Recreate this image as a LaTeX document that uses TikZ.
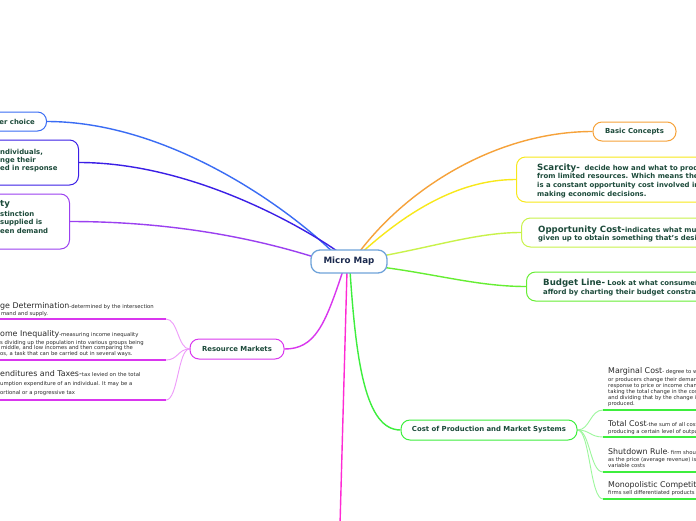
\documentclass[tikz,border=0pt]{standalone}
\usepackage{fontspec}
\setmainfont{DejaVu Sans}
\pgfdeclarelayer{bg}
\pgfsetlayers{bg,main}
\definecolor{tg}{HTML}{1C4A3A}
\definecolor{navy}{HTML}{1B2A4E}
\definecolor{mmb}{HTML}{6FA3DA}
\definecolor{cblueA}{HTML}{3A6CF4}
\definecolor{cblueB}{HTML}{3B1FE6}
\definecolor{cpurple}{HTML}{9B40F0}
\definecolor{corange}{HTML}{F6A23A}
\definecolor{cyellow}{HTML}{F8E81A}
\definecolor{cygreen}{HTML}{C9F24A}
\definecolor{cgreenA}{HTML}{66EE33}
\definecolor{cgreenB}{HTML}{3DEE3D}
\definecolor{cmag}{HTML}{D936EE}
\definecolor{cpink}{HTML}{FF2BD4}
\definecolor{lmag}{HTML}{EE9BFA}
\definecolor{lgreen}{HTML}{9CF79C}
\definecolor{ctext}{HTML}{2A2A2A}
\newcommand\boxfont{\fontsize{6.9}{8.7}\selectfont\bfseries}
\newcommand\boxbig{\fontsize{8.6}{8.7}\selectfont}
\newcommand\chtitle{\fontsize{7.9}{9}\selectfont}
\newcommand\chdesc{\fontsize{5.3}{6.2}\selectfont}
\begin{document}
\begin{tikzpicture}[x=1pt,y=-1pt,
  topic/.style={draw, fill=white, rounded corners=9pt, line width=1pt, inner sep=0pt},
  btext/.style={inner sep=0pt, text=tg, font=\boxfont, align=left},
  ctitle/.style={inner sep=0pt, text=ctext, font=\chdesc, align=left},
  con/.style={line width=1.4pt},
  thin/.style={line width=0.9pt},
  uline/.style={line width=2.2pt}]
\useasboundingbox (0,0) rectangle (696,520);
\clip (0,0) rectangle (696,520);

% central
\node[topic, draw=mmb, line width=1.3pt, minimum width=76pt, minimum height=23pt,
      text=navy, font=\fontsize{8.7}{10}\selectfont\bfseries] (mm) at (349,261.5) {Micro Map};

% right side topics
\node[topic, draw=corange, minimum width=83pt, minimum height=19pt, text=tg, font=\boxfont] (bc) at (634.5,131.5) {Basic Concepts};
\node[topic, draw=cyellow, minimum width=240pt, minimum height=45pt, anchor=west] (sc) at (516,179.5) {};
\node[btext, anchor=north west] (sct) at (537,163.5) {{\boxbig Scarcity-}\ \ decide how and what to produce\\from limited resources. Which means there\\is a constant opportunity cost involved in\\making economic decisions.};
\node[topic, draw=cygreen, minimum width=240pt, minimum height=29pt, anchor=west] (oc) at (521,232.5) {};
\node[btext, anchor=north west] (oct) at (538,225.5) {{\boxbig Opportunity Cost-}indicates what must be\\given up to obtain something that's desired};
\node[topic, draw=cgreenA, minimum width=240pt, minimum height=29pt, anchor=west] (bl) at (526,286.5) {};
\node[btext, anchor=north west] (blt) at (543,279) {{\boxbig Budget Line-} Look at what consumers can\\afford by charting their budget constraint};

% cost of production
\node[topic, draw=cgreenB, minimum width=176pt, minimum height=20pt, text=tg, font=\boxfont] (cp) at (489,430) {Cost of Production and Market Systems};
\node[ctitle, anchor=north west] (mct) at (608,367) {{\chtitle Marginal Cost}- degree to which consumers\\[1.6pt]or producers change their demand in\\response to price or income changes,\\taking the total change in the cost\\and dividing that by the change in quantity\\produced.};
\node[ctitle, anchor=north west] (tct) at (608,420) {{\chtitle Total Cost}-the sum of all costs of\\[0.8pt]producing a certain level of output};
\node[ctitle, anchor=north west] (srt) at (608,448) {{\chtitle Shutdown Rule}- firm should shut down\\[0.8pt]as the price (average revenue) is below average\\variable costs};
\node[ctitle, anchor=north west] (mot) at (608,481) {{\chtitle Monopolistic Competition}-\\[0.8pt]firms sell differentiated products};
\coordinate (c1) at (603,410);
\coordinate (c2) at (603,437);
\coordinate (c3) at (603,472);
\coordinate (c4) at (603,499);
\coordinate (c1e) at (700,410);
\coordinate (c2e) at (700,437);
\coordinate (c3e) at (700,472);
\coordinate (c4e) at (700,499);

% left topics
\node[topic, draw=cblueA, minimum width=110pt, minimum height=19pt, anchor=east] (ec) at (47,121.5) {};
\node[btext, anchor=east] (ect) at (35,121.5) {er choice};
\node[topic, draw=cblueB, minimum width=150pt, minimum height=45pt, anchor=east] (b7) at (79,162.5) {};
\node[btext, anchor=north west, font=\fontsize{6.9}{7.8}\selectfont\bfseries] (b7t) at (0,149.4) {ndividuals,\\nge their\\ed in response};
\node[topic, draw=cpurple, minimum width=150pt, minimum height=55pt, anchor=east] (b8) at (70,221.5) {};
\node[btext, anchor=north west, font=\fontsize{6.9}{8.4}\selectfont\bfseries] (b8t) at (0,200.5) {{\boxbig ty}\\[1.4pt]stinction\\supplied is\\een demand};

% resource markets
\node[topic, draw=cmag, minimum width=94pt, minimum height=20pt, text=tg, font=\boxfont] (rm) at (237,349) {Resource Markets};
\node[ctitle, anchor=north west] (wgt) at (0,302) {{\chtitle ge Determination}-determined by the intersection\\[0.8pt]\,mand and supply.};
\node[ctitle, anchor=north west, font=\fontsize{5.3}{5.5}\selectfont] (iit) at (0,330) {{\chtitle ome Inequality}-measuring income inequality\\[1.4pt]s dividing up the population into various groups being\\\,middle, and low incomes and then comparing the\\os, a task that can be carried out in several ways.};
\node[ctitle, anchor=north west, font=\fontsize{5.3}{9}\selectfont] (ett) at (0,370) {{\chtitle enditures and Taxes-}tax levied on the total\\umption expenditure of an individual. It may be a\\ortional or a progressive tax};
\coordinate (r1) at (166,319);
\coordinate (r2) at (166,360);
\coordinate (r3) at (166,400);
\coordinate (r1e) at (-5,319);
\coordinate (r2e) at (-5,360);
\coordinate (r3e) at (-5,400);
\coordinate (bot) at (340,525);

\begin{pgfonlayer}{bg}
\fill[white] (-5,-5) rectangle (701,525);
% left connectors
\draw[con, cblueA] ([shift={(-16,3)}]mm.north) .. controls (290,210) and (170,121.5) .. (ec.east);
\draw[con, cblueB] ([shift={(-10,3)}]mm.north) .. controls (300,225) and (190,162.5) .. (b7.east);
\draw[con, cpurple] ([shift={(2,-5)}]mm.west) .. controls (275,245) and (190,221.5) .. (b8.east);
% right connectors
\draw[con, corange] ([shift={(10,3)}]mm.north) .. controls (410,185) and (500,131.5) .. (bc.west);
\draw[con, cyellow] ([shift={(13,3)}]mm.north) .. controls (420,200) and (470,179.5) .. (sc.west);
\draw[con, cygreen] ([shift={(-3,-6)}]mm.east) .. controls (440,245) and (480,232.5) .. (oc.west);
\draw[con, cgreenA] ([shift={(-3,6)}]mm.east) .. controls (440,275) and (480,286.5) .. (bl.west);
% downward connectors
\draw[con, cgreenB] ([shift={(1,-3)}]mm.south) .. controls (356,360) and (365,430) .. (cp.west);
\draw[con, cmag] ([shift={(-6,-3)}]mm.south) .. controls (325,325) and (315,349) .. (rm.east);
\draw[con, cpink] ([shift={(-2,-3)}]mm.south) -- (bot);
% resource market branches
\foreach \p in {r1,r2,r3}{
  \draw[thin, lmag] (rm.west) .. controls (178,349) and (178,0|-\p) .. (\p);
}
\draw[uline, cmag] (r1) -- (r1e);
\draw[uline, cmag] (r2) -- (r2e);
\draw[uline, cmag] (r3) -- (r3e);
% cost branches
\foreach \p in {c1,c2,c3,c4}{
  \draw[thin, lgreen] (cp.east) .. controls (590,430) and (590,0|-\p) .. (\p);
}
\draw[uline, cgreenB] (c1) -- (c1e);
\draw[uline, cgreenB] (c2) -- (c2e);
\draw[uline, cgreenB] (c3) -- (c3e);
\draw[uline, cgreenB] (c4) -- (c4e);
\end{pgfonlayer}
\end{tikzpicture}
\end{document}
